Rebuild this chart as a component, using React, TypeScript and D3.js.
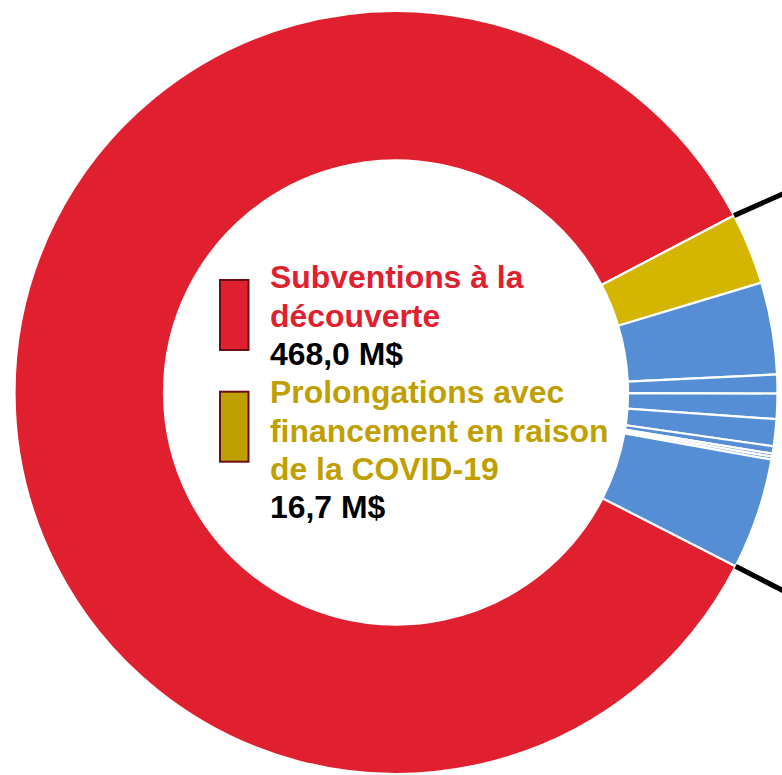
import React from "react";
import * as d3 from "d3";

const categories = [
  "Subventions à la découverte",
  "Prolongations avec financement en raison de la COVID-19",
  "Autre 1",
  "Autre 2",
  "Autre 3",
  "Autre 4",
  "Autre 5",
  "Autre 6",
  "Autre 7",
  "Autre 8",
];
const values = [468.0, 16.7, 21.5, 4.4, 5.9, 6.3, 1.7, 0.7, 0.7, 26.0];
const sliceColors = [
  "#E0202E",
  "#D4B500",
  "#558ED5",
  "#558ED5",
  "#558ED5",
  "#558ED5",
  "#558ED5",
  "#558ED5",
  "#558ED5",
  "#558ED5",
];
const legendTitles = [
  ["Subventions à la", "découverte"],
  ["Prolongations avec", "financement en raison", "de la COVID-19"],
];
const legendValues = ["468,0 M$", "16,7 M$"];
const legendTextColors = ["#E0202E", "#BFA000"];
const legendSwatchColors = ["#E0202E", "#BFA000"];

const W = 782;
const H = 775;
const cx = 396;
const cy = 392.5;
const outerR = 381.5;
const innerR = 232;
const startDeg = 117.1;

export default function App() {
  const start = (startDeg * Math.PI) / 180;
  const pie = d3
    .pie<number>()
    .sort(null)
    .value((d) => d)
    .startAngle(start)
    .endAngle(start + 2 * Math.PI);
  const arcs = pie(values);
  const arc = d3.arc<d3.PieArcDatum<number>>().innerRadius(innerR).outerRadius(outerR);

  const pt = (a: number) => [Math.sin(a) * outerR, -Math.cos(a) * outerR];
  const topA = arcs[0].endAngle;
  const botA = arcs[0].startAngle;
  const [tx, ty] = pt(topA);
  const [bx, by] = pt(botA);
  const topSlope = -0.445;
  const botSlope = 0.515;
  const ext = 80;

  const fontSize = 31.9;
  const lh = 38.3;
  const textX = 270 - cx;
  const firstBaseline = 288.3 - cy;

  let line = 0;
  const legendItems = legendTitles.map((title, i) => {
    const startLine = line;
    const lines = title.map((t, j) => ({ t, color: legendTextColors[i], y: firstBaseline + (startLine + j) * lh }));
    lines.push({ t: legendValues[i], color: "#000000", y: firstBaseline + (startLine + title.length) * lh });
    line += title.length + 1;
    return { lines, startLine };
  });

  return (
    <svg
      width={W}
      height={H}
      style={{ position: "absolute", left: 0, top: 0, display: "block" }}
      fontFamily="'Liberation Sans', Arial, sans-serif"
    >
      <g transform={`translate(${cx},${cy})`}>
        {arcs.map((a, i) => (
          <path key={categories[i]} d={arc(a) || ""} fill={sliceColors[i]} stroke="#ffffff" strokeWidth={2.2} />
        ))}
        <line x1={tx} y1={ty} x2={tx + ext} y2={ty + ext * topSlope} stroke="#000" strokeWidth={5} />
        <line x1={bx} y1={by} x2={bx + ext} y2={by + ext * botSlope} stroke="#000" strokeWidth={5} />
        {legendItems.map((item, i) => (
          <g key={i}>
            <rect
              x={220 - cx}
              y={i === 0 ? 280 - cy : 391.7 - cy}
              width={28.5}
              height={70}
              fill={legendSwatchColors[i]}
              stroke="#6B0D15"
              strokeWidth={2}
            />
            {item.lines.map((l, j) => (
              <text key={j} x={textX} y={l.y} fill={l.color} fontSize={fontSize} fontWeight="bold">
                {l.t}
              </text>
            ))}
          </g>
        ))}
      </g>
    </svg>
  );
}
